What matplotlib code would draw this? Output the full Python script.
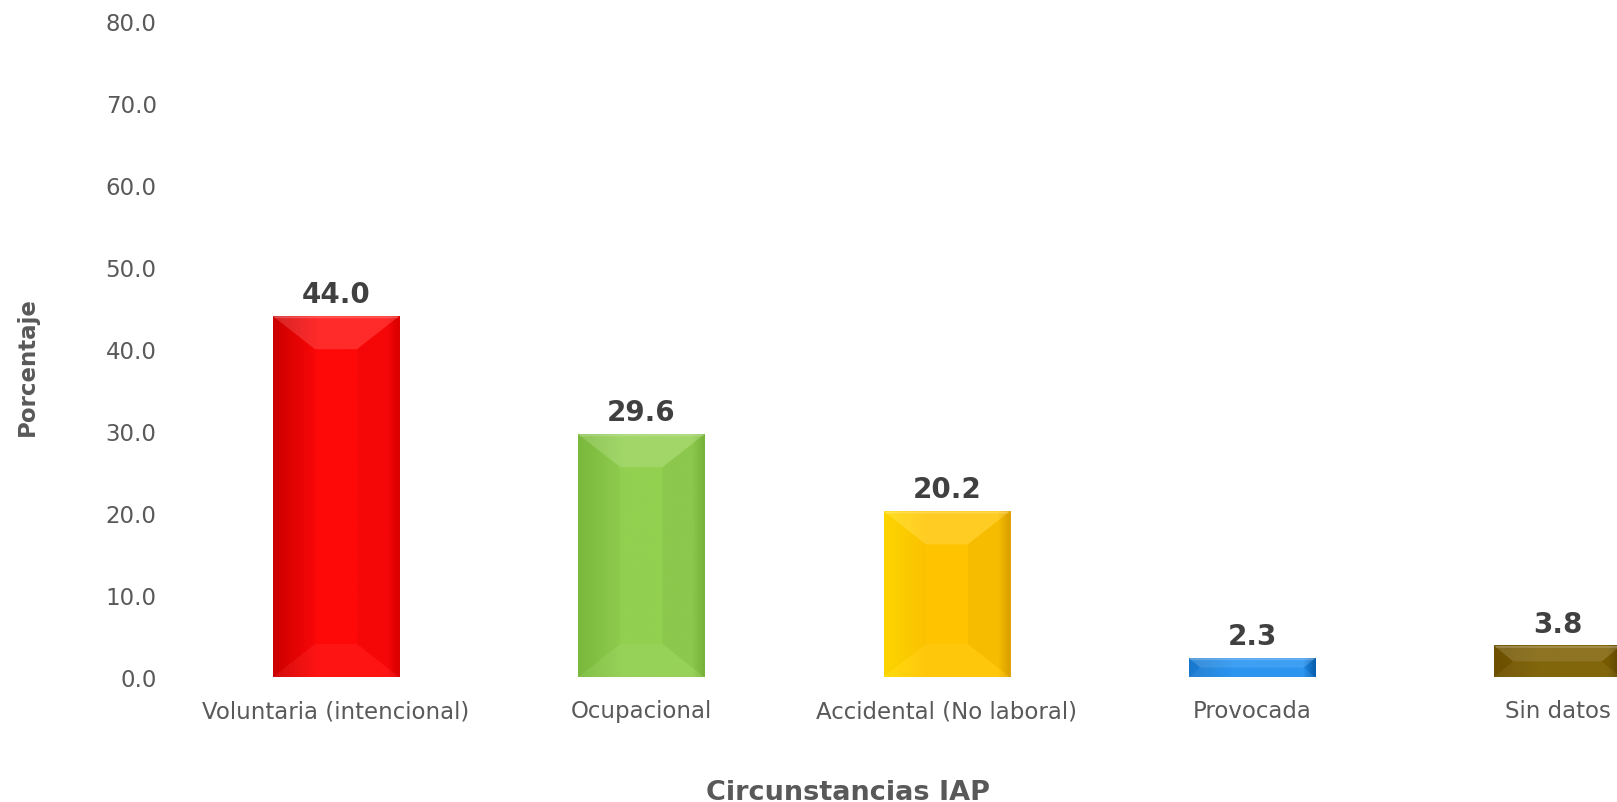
import numpy as np
import matplotlib.pyplot as plt
from matplotlib.patches import Polygon
from matplotlib.colors import to_rgb

categories = ["Voluntaria (intencional)", "Ocupacional", "Accidental (No laboral)",
              "Provocada", "Sin datos"]
values = [44.0, 29.6, 20.2, 2.3, 3.8]
y_ticks = [0, 10, 20, 30, 40, 50, 60, 70, 80]

# face colours of each bar: left edge, middle, right edge
face_left = ["#D00000", "#7CBC3E", "#FFD900", "#1A7AD0", "#6E5200"]
face_mid = ["#FF0808", "#92D050", "#FFC400", "#2090F0", "#7C5E00"]
face_right = ["#E00000", "#7AB83C", "#E0A400", "#0860B0", "#604800"]

fig = plt.figure(figsize=(16.17, 8.03), dpi=100)
ax = fig.add_axes([165 / 1617, 125 / 803, 1 - 165 / 1617, 656 / 803])

xlim = (-0.56, 4.195)
ylim = (0, 80)
ax.set_xlim(*xlim)
ax.set_ylim(*ylim)

xpos = np.arange(len(categories))
bars = ax.bar(xpos, values, width=0.413, color=face_mid, edgecolor="none", zorder=2)

T = ax.transData
inv = T.inverted()
for i, b in enumerate(bars):
    x0, y0 = b.get_x(), b.get_y()
    w, h = b.get_width(), b.get_height()

    # horizontal shading of the face
    n = 200
    t = np.linspace(0, 1, n)
    cl, cm, cr = np.array(to_rgb(face_left[i])), np.array(to_rgb(face_mid[i])), np.array(to_rgb(face_right[i]))
    img = np.zeros((1, n, 3))
    for k, tt in enumerate(t):
        if tt < 0.35:
            f = tt / 0.35
            img[0, k] = cl * (1 - f) + cm * f
        elif tt > 0.9:
            f = (tt - 0.9) / 0.1
            img[0, k] = cm * (1 - f) + cr * f
        else:
            img[0, k] = cm
    ax.imshow(img, extent=[x0, x0 + w, y0, y0 + h], aspect="auto",
              interpolation="bilinear", zorder=3)

    # bevel frame, worked out in pixels
    px0, py0 = T.transform((x0, y0))
    px1, py1 = T.transform((x0 + w, y0 + h))
    hp, wp = py1 - py0, px1 - px0
    dy = min(33, hp / 2)
    dx = min(42, 0.6 * hp, wp / 2)
    top = [(px0, py1), (px1, py1), (px1 - dx, py1 - dy), (px0 + dx, py1 - dy)]
    bottom = [(px0, py0), (px1, py0), (px1 - dx, py0 + dy), (px0 + dx, py0 + dy)]
    left = [(px0, py0), (px0 + dx, py0 + dy), (px0 + dx, py1 - dy), (px0, py1)]
    right = [(px1, py0), (px1 - dx, py0 + dy), (px1 - dx, py1 - dy), (px1, py1)]
    for poly, col, a in [(top, "white", 0.14), (bottom, "white", 0.05),
                         (left, "black", 0.015), (right, "black", 0.035)]:
        ax.add_patch(Polygon(inv.transform(poly), closed=True, facecolor=col,
                             alpha=a, edgecolor="none", zorder=4))
    # thin light rim along the top edge
    rim = [(px0, py1), (px1, py1), (px1 - 2, py1 - 2), (px0 + 2, py1 - 2)]
    ax.add_patch(Polygon(inv.transform(rim), closed=True, facecolor="white",
                         alpha=0.2, edgecolor="none", zorder=5))

    ax.annotate(f"{values[i]:.1f}", (xpos[i], values[i]), xytext=(0, 10),
                textcoords="offset points", ha="center", va="baseline",
                fontsize=20, fontweight="bold", color="#404040")

ax.set_xlim(*xlim)
ax.set_ylim(*ylim)
ax.set_xticks(xpos)
ax.set_xticklabels(categories)
ax.set_yticks(y_ticks)
ax.set_yticklabels([f"{v:.1f}" for v in y_ticks])
ax.tick_params(axis="both", length=0, labelsize=16.5, colors="#595959")
ax.tick_params(axis="x", pad=16)
ax.tick_params(axis="y", pad=6)
for s in ax.spines.values():
    s.set_visible(False)

fig.text(27 / 1617, 1 - 367 / 803, "Porcentaje", rotation=90, ha="center", va="center",
         fontweight="bold", fontsize=16.5, color="#595959")
fig.text(848 / 1617, 1 - 793 / 803, "Circunstancias IAP", ha="center", va="center",
         fontweight="bold", fontsize=19.5, color="#595959")

fig.savefig("out.png", dpi=100)
